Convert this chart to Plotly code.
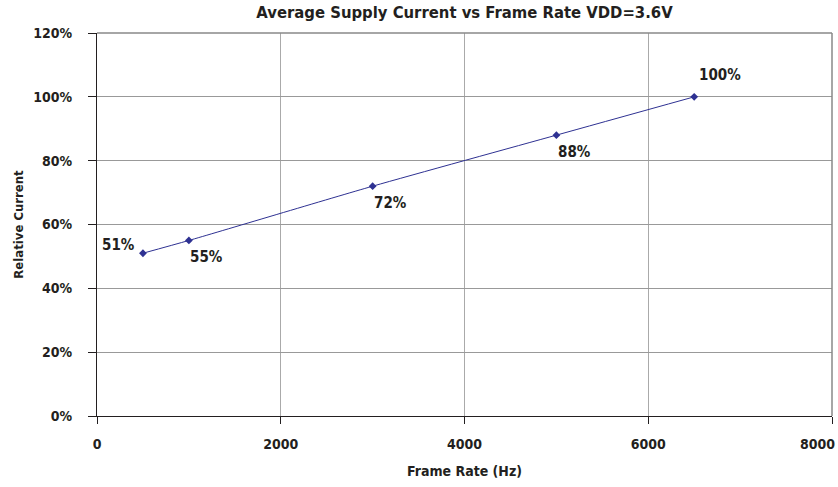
import plotly.graph_objects as go

frame_rate = [500, 1000, 3000, 5000, 6500]
relative_current = [0.51, 0.55, 0.72, 0.88, 1.00]
point_labels = ["51%", "55%", "72%", "88%", "100%"]
label_shift = [(-24, 8), (18, -17), (18, -17), (18, -17), (26, 22)]

x_ticks = [0, 2000, 4000, 6000, 8000]
y_ticks = [0, 0.2, 0.4, 0.6, 0.8, 1.0, 1.2]
y_tick_labels = ["0%", "20%", "40%", "60%", "80%", "100%", "120%"]

FONT = "DejaVu Sans Condensed"
TXT = "#231F20"

fig = go.Figure()
fig.add_trace(go.Scatter(
    x=frame_rate, y=relative_current, mode="lines+markers",
    line=dict(color="#2E3192", width=1, shape="spline", smoothing=0.6),
    marker=dict(symbol="diamond", size=6, color="#2E3192"),
    showlegend=False, hoverinfo="skip"))

for xv, yv, t, (dx, dy) in zip(frame_rate, relative_current, point_labels, label_shift):
    fig.add_annotation(x=xv, y=yv, text=f"<b>{t}</b>", showarrow=False,
                       xshift=dx, yshift=dy,
                       font=dict(family=FONT, size=15, color=TXT))

fig.update_layout(
    width=838, height=487,
    margin=dict(l=97, r=6, t=33, b=71),
    paper_bgcolor="white", plot_bgcolor="white",
    font=dict(family=FONT, size=14, color=TXT),
    title=dict(text="<b>Average Supply Current vs Frame Rate VDD=3.6V</b>",
               x=0.5, xref="paper", xanchor="center", y=0.975, yanchor="middle",
               font=dict(family=FONT, size=16.5, color=TXT)),
)
fig.update_xaxes(
    range=[0, 8000], tickvals=x_ticks,
    ticktext=[f"<b>{v}</b>" for v in x_ticks[:-1]] + [""],
    showgrid=True, gridcolor="#AAAAAA", gridwidth=1,
    showline=True, linecolor=TXT, linewidth=1,
    ticks="outside", ticklen=7, tickcolor=TXT,
    ticklabelstandoff=8, automargin=False,
    zeroline=False,
    title=dict(text="<b>Frame Rate (Hz)</b>", standoff=15,
               font=dict(family=FONT, size=14)),
)
# last x tick label sits flush against the right edge in the reference
fig.add_annotation(x=x_ticks[-1], y=0, xref="x", yref="y",
                   text=f"<b>{x_ticks[-1]}</b>", showarrow=False,
                   xanchor="right", yanchor="top", xshift=5, yshift=-18,
                   font=dict(family=FONT, size=14, color=TXT))
fig.update_yaxes(
    range=[0, 1.2], tickvals=y_ticks,
    ticktext=[f"<b>{t}</b>" for t in y_tick_labels],
    showgrid=True, gridcolor="#999999", gridwidth=1,
    showline=True, linecolor=TXT, linewidth=1,
    ticks="outside", ticklen=8, tickcolor=TXT,
    ticklabelstandoff=13, automargin=False,
    zeroline=False,
    title=dict(text="<b>Relative Current</b>", standoff=6,
               font=dict(family=FONT, size=13)),
)
# top/right border in gray
fig.add_shape(type="line", xref="paper", yref="paper", x0=0, x1=1, y0=1, y1=1,
              line=dict(color="#888888", width=1.5))
fig.add_shape(type="line", xref="paper", yref="paper", x0=1, x1=1, y0=0, y1=1,
              line=dict(color="#888888", width=1.5))

fig.write_html("out.html", config={"displayModeBar": False},
               post_script="document.body.style.margin='0';")
